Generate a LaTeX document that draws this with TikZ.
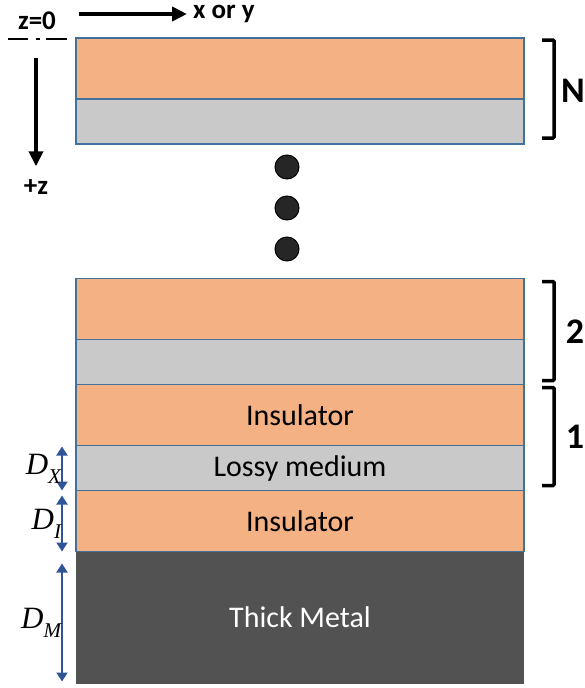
\documentclass[tikz,border=0pt]{standalone}
\usepackage{fontspec}
\setmainfont{Carlito}
\newfontfamily\dimfont{Liberation Serif}
\usepackage{xcolor}
\usepackage{tikz}
\usetikzlibrary{arrows.meta,positioning}
\definecolor{layerorange}{HTML}{F4B183}
\definecolor{layergray}{HTML}{C9C9C9}
\definecolor{layeredge}{HTML}{41719C}
\definecolor{metalgray}{HTML}{525252}
\definecolor{dimblue}{HTML}{2F5597}
\definecolor{dotblack}{HTML}{262626}
\newcommand{\dimsym}[1]{{\dimfont\itshape D\raisebox{-0.3em}{\fontsize{21}{24}\selectfont #1}}}

\begin{document}
\begin{tikzpicture}[
  x=1pt, y=-1pt,
  font=\fontsize{30}{36}\selectfont,
  >=Latex,
  node distance=0pt,
  layer/.style={draw=layeredge, line width=1.5pt, minimum width=448pt, outer sep=0pt, inner sep=0pt, align=center},
  insul/.style={layer, fill=layerorange, minimum height=61pt},
  lossy/.style={layer, fill=layergray, minimum height=45pt},
  metal/.style={layer, draw=none, fill=metalgray, text=white, minimum height=132pt},
  seqdot/.style={circle, draw=black, line width=1pt, fill=dotblack, minimum size=24pt, inner sep=0pt},
  brack/.style={line width=3.5pt, rounded corners=1pt},
  numlbl/.style={font=\fontsize{36}{40}\selectfont\bfseries, inner sep=0pt},
  axislbl/.style={font=\fontsize{27}{30}\selectfont\bfseries, inner sep=0pt},
  axis/.style={-{Triangle[length=15pt,width=14pt]}, line width=4.5pt},
  dim/.style={{Triangle[length=9pt,width=11pt]}-{Triangle[length=9pt,width=11pt]}, draw=dimblue, line width=2pt},
  dimlbl/.style={font=\fontsize{31}{34}\selectfont, inner sep=0pt, left}
]
\useasboundingbox (0,0) rectangle (585,688);

\node[insul] (topA) at (300,68.5) {};
\node[lossy, below=of topA] (topB) {};
\node[seqdot] (dotA) at (287,167) {};
\node[seqdot, below=16pt of dotA] (dotB) {};
\node[seqdot, below=16pt of dotB] (dotC) {};
\node[insul] (midA) at (300,309) {};
\node[lossy, below=of midA] (midB) {};
\node[insul, below=of midB] (insA) {Insulator};
\node[lossy, below=of insA] (lossA) {Lossy medium};
\node[insul, below=of lossA] (insB) {Insulator};
\node[metal, below=of insB] (metalA) {Thick Metal};

\draw[brack] ([xshift=18pt,yshift=-2pt]topA.north east) -- ++(12,0) |- ([xshift=18pt,yshift=6pt]topB.south east);
\draw[brack] ([xshift=18pt,yshift=-3pt]midA.north east) -- ++(12,0) |- ([xshift=18pt,yshift=4pt]midB.south east);
\draw[brack] ([xshift=18pt,yshift=-3pt]insA.north east) -- ++(12,0) |- ([xshift=18pt,yshift=5pt]lossA.south east);
\node[numlbl] (labN) at (573,91) {N};
\node[numlbl] (labTwo) at (575,332) {2};
\node[numlbl] (labOne) at (575,437) {1};

\draw[dim] ([xshift=-14pt,yshift=-1pt]lossA.north west) -- node[dimlbl] (lblDX) {\dimsym{X}} ([xshift=-14pt]lossA.south west);
\draw[dim] ([xshift=-14pt,yshift=-5pt]insB.north west) -- node[dimlbl] (lblDI) {\dimsym{I}} ([xshift=-14pt]insB.south west);
\draw[dim] ([xshift=-14pt,yshift=-12pt]metalA.north west) -- node[dimlbl] (lblDM) {\dimsym{M}} ([xshift=-14pt,yshift=2pt]metalA.south west);

\node[axislbl] (zzero) at (37,21) {z=0};
\coordinate (zleft) at (8,39);
\coordinate (zright) at (67,39);
\draw[line width=2.5pt, dash pattern=on 20pt off 8pt on 4pt off 6pt on 22pt] (zleft) -- (zright);
\node[axislbl] (plusz) at (36,187) {+z};
\coordinate (zstart) at (36,58);
\draw[axis, shorten >=13pt] (zstart) -- (plusz.north);
\node[axislbl, anchor=west] (xory) at (193,14) {x or y};
\coordinate (xstart) at (79,14);
\draw[axis, shorten >=6pt] (xstart) -- (xory.west);
\end{tikzpicture}
\end{document}
